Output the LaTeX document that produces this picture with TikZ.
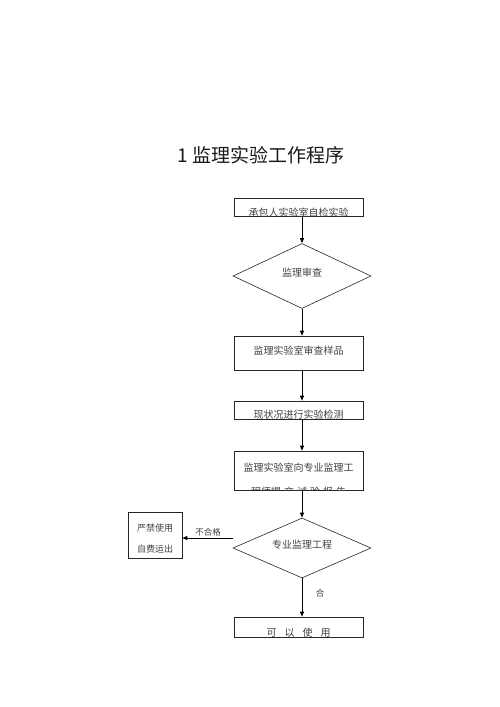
\documentclass[tikz,border=0pt]{standalone}
\usepackage{fontspec}
\setmainfont{Liberation Sans}
\newfontfamily\cjk{Noto Sans CJK SC}
\usetikzlibrary{shapes.geometric,arrows.meta}
\tikzset{
  box/.style={draw=black!85,line width=0.7pt,minimum width=129pt,inner sep=0pt},
  dia/.style={diamond,draw=black!85,line width=0.6pt,minimum width=138pt,inner sep=0pt},
  txt/.style={font=\cjk\fontsize{10pt}{12pt}\selectfont,text=black!75,inner sep=0pt},
  small/.style={font=\cjk\fontsize{8.5pt}{10pt}\selectfont,text=black!75,inner sep=0pt},
  conn/.style={draw=black,line width=0.8pt,-{Triangle[width=4pt,length=5pt]}}
}
\begin{document}
\begin{tikzpicture}[x=1pt,y=-1pt]
\useasboundingbox (0,0) rectangle (500,707);
\node[font=\cjk\fontsize{19pt}{22pt}\selectfont,text=black!90,inner sep=0pt] (title) at (261,155) {1\hspace{5pt}监理实验工作程序};
% boxes
\node[box,minimum height=18pt] (b1) at (298.5,207) {};
\node[dia,minimum height=65pt] (d1) at (302,276) {};
\node[box,minimum height=34pt] (b2) at (298.5,353) {};
\node[box,minimum height=18pt] (b3) at (298.5,410) {};
\node[box,minimum height=39pt] (b4) at (298.5,470.5) {};
\node[dia,minimum height=60pt] (d2) at (302,548) {};
\node[draw=black!85,line width=0.7pt,minimum width=54pt,minimum height=46pt,inner sep=0pt] (rj) at (155,535) {};
\node[box,minimum height=20pt] (b5) at (298.5,627) {};
% texts
\begin{scope}
\clip (b1.north west) rectangle (b1.south east);
\node[txt] (t1) at (298.5,213) {承包人实验室自检实验};
\end{scope}
\node[txt] (t2) at (302,273) {监理审查};
\node[txt] (t3) at (298.5,351) {监理实验室审查样品};
\begin{scope}
\clip (b3.north west) rectangle (b3.south east);
\node[txt] (t4) at (298.5,415) {现状况进行实验检测};
\end{scope}
\node[txt] (t5) at (298.5,468) {监理实验室向专业监理工};
\begin{scope}
\clip (b4.north west) rectangle (b4.south east);
\node[txt] (t6) at (298.5,491.5) {程师提\hspace{3pt}交\hspace{3pt}试\hspace{3pt}验\hspace{3pt}报\hspace{3pt}告};
\end{scope}
\node[txt] (t7) at (302,545) {专业监理工程};
\node[small,font=\cjk\fontsize{9pt}{11pt}\selectfont] (t8) at (155,528) {严禁使用};
\node[small,font=\cjk\fontsize{9pt}{11pt}\selectfont] (t9) at (155,549) {自费运出};
\begin{scope}
\clip (b5.north west) rectangle (b5.south east);
\node[txt] (t10) at (298.5,633) {可\hspace{8pt}以\hspace{8pt}使\hspace{8pt}用};
\end{scope}
\node[small] (l1) at (208,532) {不合格};
\node[small] (l2) at (320,593) {合};
% connectors
\coordinate (dl) at ([yshift=10pt]d2.west);
\draw[conn] (d1.north |- b1.south) -- (d1.north);
\draw[conn] (d1.south) -- (d1.south |- b2.north);
\draw[conn] (d1.south |- b2.south) -- (d1.south |- b3.north);
\draw[conn] (d1.south |- b3.south) -- (d1.south |- b4.north);
\draw[conn] (d2.north |- b4.south) -- (d2.north);
\draw[conn] (dl) -- (rj.east |- dl);
\draw[conn] (d2.south) -- (d2.south |- b5.north);
\end{tikzpicture}
\end{document}
